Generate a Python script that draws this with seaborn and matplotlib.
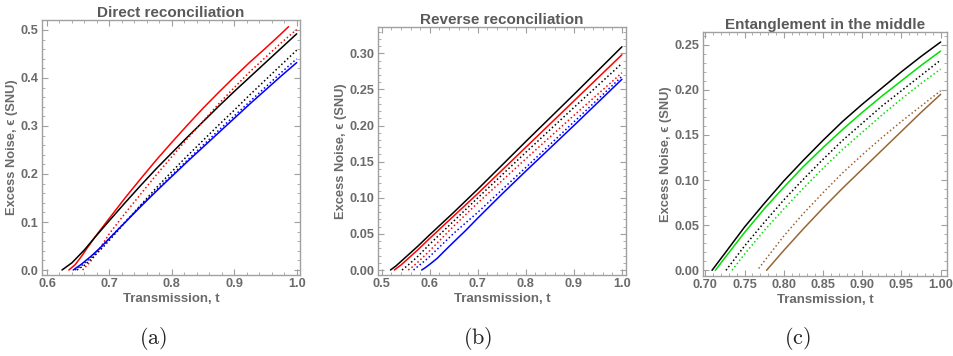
import pandas as pd
import matplotlib
matplotlib.use("Agg")
import matplotlib.pyplot as plt
import seaborn as sns
from matplotlib.ticker import MultipleLocator, AutoMinorLocator

# (a) direct reconciliation
a_black_t = [0.624, 0.64, 0.66, 0.68, 0.70, 0.725, 0.75, 0.775, 0.80, 0.825, 0.85, 0.875, 0.90, 0.925, 0.95, 0.975, 1.00]
a_black_eps = [0.0, 0.015, 0.042, 0.073, 0.103, 0.140, 0.176, 0.211, 0.244, 0.277, 0.309, 0.341, 0.372, 0.402, 0.432, 0.462, 0.492]
a_red_t = [0.635, 0.645, 0.655, 0.665, 0.677, 0.69, 0.70, 0.725, 0.75, 0.775, 0.80, 0.825, 0.85, 0.875, 0.90, 0.925, 0.95, 0.975, 0.987]
a_red_eps = [0.0, 0.011, 0.028, 0.047, 0.069, 0.091, 0.108, 0.15, 0.19, 0.229, 0.266, 0.302, 0.337, 0.37, 0.402, 0.433, 0.462, 0.492, 0.507]
a_red_dot_t = [0.657, 0.67, 0.685, 0.70, 0.725, 0.75, 0.775, 0.80, 0.825, 0.85, 0.875, 0.90, 0.925, 0.95, 0.975, 1.00]
a_red_dot_eps = [0.0, 0.018, 0.046, 0.076, 0.118, 0.158, 0.198, 0.236, 0.274, 0.31, 0.346, 0.38, 0.413, 0.443, 0.473, 0.501]
a_black_dot_t = [0.648, 0.66, 0.67, 0.685, 0.70, 0.725, 0.75, 0.775, 0.80, 0.825, 0.85, 0.875, 0.90, 0.925, 0.95, 0.975, 1.00]
a_black_dot_eps = [0.0, 0.01, 0.022, 0.041, 0.062, 0.099, 0.135, 0.171, 0.205, 0.238, 0.27, 0.302, 0.333, 0.365, 0.396, 0.427, 0.458]
a_blue_t = [0.642, 0.655, 0.67, 0.685, 0.70, 0.725, 0.75, 0.775, 0.80, 0.825, 0.85, 0.875, 0.90, 0.925, 0.95, 0.975, 1.00]
a_blue_eps = [0.0, 0.012, 0.028, 0.046, 0.066, 0.099, 0.132, 0.164, 0.195, 0.226, 0.256, 0.286, 0.316, 0.346, 0.375, 0.404, 0.432]
a_blue_dot_t = [0.645, 0.657, 0.67, 0.685, 0.70, 0.725, 0.75, 0.775, 0.80, 0.825, 0.85, 0.875, 0.90, 0.925, 0.95, 0.975, 1.00]
a_blue_dot_eps = [0.0, 0.011, 0.026, 0.045, 0.066, 0.1, 0.134, 0.166, 0.198, 0.229, 0.26, 0.291, 0.321, 0.351, 0.381, 0.411, 0.44]

# (b) reverse reconciliation
b_black_t = [0.518, 0.53, 0.55, 0.575, 0.60, 0.65, 0.70, 0.80, 0.90, 1.00]
b_black_eps = [0.0, 0.006, 0.018, 0.033, 0.049, 0.08, 0.112, 0.178, 0.243, 0.309]
b_red_t = [0.526, 0.54, 0.55, 0.575, 0.60, 0.65, 0.70, 0.80, 0.90, 1.00]
b_red_eps = [0.0, 0.007, 0.013, 0.028, 0.044, 0.075, 0.106, 0.17, 0.234, 0.298]
b_black_dot_t = [0.542, 0.555, 0.575, 0.60, 0.65, 0.70, 0.80, 0.90, 1.00]
b_black_dot_eps = [0.0, 0.007, 0.019, 0.036, 0.068, 0.100, 0.163, 0.225, 0.286]
b_red_dot_t = [0.555, 0.565, 0.58, 0.60, 0.65, 0.70, 0.80, 0.90, 1.00]
b_red_dot_eps = [0.0, 0.005, 0.014, 0.027, 0.061, 0.093, 0.154, 0.214, 0.273]
b_blue_dot_t = [0.566, 0.575, 0.59, 0.60, 0.625, 0.65, 0.70, 0.80, 0.90, 1.00]
b_blue_dot_eps = [0.0, 0.005, 0.013, 0.019, 0.035, 0.051, 0.08, 0.142, 0.205, 0.268]
b_blue_t = [0.583, 0.59, 0.60, 0.615, 0.63, 0.65, 0.675, 0.70, 0.75, 0.80, 0.90, 1.00]
b_blue_eps = [0.0, 0.003, 0.008, 0.016, 0.026, 0.039, 0.055, 0.072, 0.105, 0.137, 0.20, 0.264]

# (c) entanglement in the middle
c_black_t = [0.7085, 0.725, 0.75, 0.775, 0.80, 0.825, 0.85, 0.875, 0.90, 0.925, 0.95, 0.975, 1.00]
c_black_eps = [0.0, 0.019, 0.048, 0.074, 0.099, 0.122, 0.144, 0.165, 0.184, 0.202, 0.220, 0.237, 0.253]
c_green_t = [0.7127, 0.725, 0.75, 0.775, 0.80, 0.825, 0.85, 0.875, 0.90, 0.925, 0.95, 0.975, 1.00]
c_green_eps = [0.0, 0.014, 0.042, 0.068, 0.092, 0.115, 0.136, 0.156, 0.175, 0.193, 0.21, 0.227, 0.243]
c_black_dot_t = [0.7263, 0.75, 0.775, 0.80, 0.825, 0.85, 0.875, 0.90, 0.925, 0.95, 0.975, 1.00]
c_black_dot_eps = [0.0, 0.027, 0.053, 0.078, 0.101, 0.123, 0.144, 0.163, 0.182, 0.199, 0.216, 0.233]
c_green_dot_t = [0.734, 0.75, 0.775, 0.80, 0.825, 0.85, 0.875, 0.90, 0.925, 0.95, 0.975, 1.00]
c_green_dot_eps = [0.0, 0.018, 0.044, 0.068, 0.091, 0.113, 0.134, 0.153, 0.172, 0.19, 0.207, 0.223]
c_brown_dot_t = [0.768, 0.775, 0.80, 0.825, 0.85, 0.875, 0.90, 0.925, 0.95, 0.975, 1.00]
c_brown_dot_eps = [0.002, 0.010, 0.038, 0.063, 0.086, 0.108, 0.128, 0.147, 0.165, 0.182, 0.199]
c_brown_t = [0.778, 0.79, 0.80, 0.825, 0.85, 0.875, 0.90, 0.925, 0.95, 0.975, 1.00]
c_brown_eps = [0.0, 0.012, 0.022, 0.046, 0.069, 0.091, 0.112, 0.133, 0.154, 0.175, 0.195]

titles = ["Direct reconciliation", "Reverse reconciliation", "Entanglement in the middle"]
sub_labels = ["(a)", "(b)", "(c)"]

sns.set_style("white")
plt.rcParams['font.family'] = ['Liberation Sans', 'DejaVu Sans']
plt.rcParams['mathtext.fontset'] = 'cm'

RED, BLUE, BLACK, GREEN, BROWN = "#ff0000", "#0000ff", "#000000", "#00e000", "#996633"
DOT = (0, (1, 1.6))
GRAY = "#6a6a6a"
FRAME = "#a0a0a0"

panels = [
    [(a_red_t, a_red_eps, RED, "-"), (a_black_t, a_black_eps, BLACK, "-"),
     (a_red_dot_t, a_red_dot_eps, RED, DOT), (a_black_dot_t, a_black_dot_eps, BLACK, DOT),
     (a_blue_dot_t, a_blue_dot_eps, BLUE, DOT), (a_blue_t, a_blue_eps, BLUE, "-")],
    [(b_black_t, b_black_eps, BLACK, "-"), (b_red_t, b_red_eps, RED, "-"),
     (b_black_dot_t, b_black_dot_eps, BLACK, DOT), (b_red_dot_t, b_red_dot_eps, RED, DOT),
     (b_blue_dot_t, b_blue_dot_eps, BLUE, DOT), (b_blue_t, b_blue_eps, BLUE, "-")],
    [(c_black_t, c_black_eps, BLACK, "-"), (c_green_t, c_green_eps, GREEN, "-"),
     (c_black_dot_t, c_black_dot_eps, BLACK, DOT), (c_green_dot_t, c_green_dot_eps, GREEN, DOT),
     (c_brown_dot_t, c_brown_dot_eps, BROWN, DOT), (c_brown_t, c_brown_eps, BROWN, "-")],
]

W, H = 954, 356
# axes boxes in pixels: left, top, right, bottom
boxes = [(42, 20, 300, 275), (378, 27, 626, 275), (703, 32, 947, 276)]
xlims = [(0.592, 1.0053), (0.492, 1.0085), (0.697, 1.0081)]
ylims = [(-0.0104, 0.5208), (-0.0069, 0.3364), (-0.0063, 0.2641)]
xmaj = [0.1, 0.1, 0.05]
ymaj = [0.1, 0.05, 0.05]
xfmt = ["%.1f", "%.1f", "%.2f"]
yfmt = ["%.1f", "%.2f", "%.2f"]
label_x = [153, 478, 797]

fig = plt.figure(figsize=(W / 100, H / 100), dpi=100)
for i, curves in enumerate(panels):
    l, t, r, b = boxes[i]
    ax = fig.add_axes([l / W, 1 - b / H, (r - l) / W, (b - t) / H])
    for xs, ys, col, ls in curves:
        df = pd.DataFrame({"t": xs, "eps": ys})
        sns.lineplot(data=df, x="t", y="eps", color=col, linestyle=ls,
                     linewidth=1.1, estimator=None, ax=ax)
    ax.set_xlim(*xlims[i])
    ax.set_ylim(*ylims[i])
    ax.xaxis.set_major_locator(MultipleLocator(xmaj[i]))
    ax.yaxis.set_major_locator(MultipleLocator(ymaj[i]))
    ax.xaxis.set_minor_locator(AutoMinorLocator(5))
    ax.yaxis.set_minor_locator(AutoMinorLocator(5))
    ax.xaxis.set_major_formatter(plt.FormatStrFormatter(xfmt[i]))
    ax.yaxis.set_major_formatter(plt.FormatStrFormatter(yfmt[i]))
    ax.tick_params(which="both", direction="in", bottom=True, left=True, top=True, right=True,
                   color=FRAME, labelcolor=GRAY, labelsize=9.2, pad=2.5)
    ax.tick_params(which="major", length=4, width=0.8)
    ax.tick_params(which="minor", length=2, width=0.6)
    for lab in ax.get_xticklabels() + ax.get_yticklabels():
        lab.set_fontweight("bold")
    for sp in ax.spines.values():
        sp.set_color(FRAME)
        sp.set_linewidth(1.0)
    ax.set_title(titles[i], fontsize=11, fontweight="bold", color="#5a5a5a", pad=2)
    ax.set_xlabel("Transmission, t", fontsize=9.5, fontweight="bold", color=GRAY, labelpad=2)
    ax.set_ylabel("Excess Noise, \u03f5 (SNU)", fontsize=9.3, fontweight="bold", color=GRAY, labelpad=2)
    fig.text(label_x[i] / W, 1 - 339 / H, r"$\mathrm{" + sub_labels[i] + "}$",
             fontsize=16, ha="center", va="center", color="#222222")

fig.savefig("out.png", dpi=100)
